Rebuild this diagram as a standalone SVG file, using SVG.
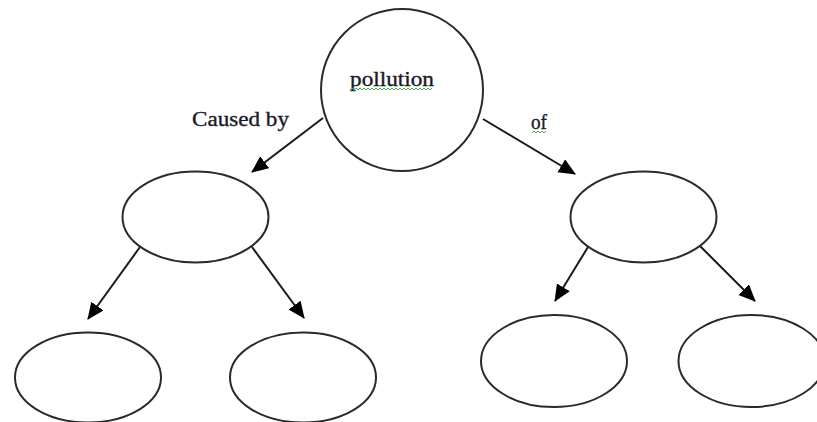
<svg xmlns="http://www.w3.org/2000/svg" width="817" height="422" viewBox="0 0 817 422">
  <defs>
    <marker id="arrow" markerUnits="userSpaceOnUse" markerWidth="18" markerHeight="16" refX="16" refY="7.5" orient="auto">
      <path d="M0,0 L17,7.5 L0,15 z" fill="#000"/>
    </marker>
    <style>
      .node { fill: #fff; stroke: #2a2a2a; stroke-width: 2; }
      .edge { stroke: #1a1a1a; stroke-width: 2; fill: none; marker-end: url(#arrow); }
      .label { font-family: "Liberation Serif", "Times New Roman", serif; font-size: 20px; fill: #1a1a2a; stroke: #1a1a2a; stroke-width: 0.35; }
      .squiggle { fill: none; stroke: #3cb43c; stroke-width: 1; }
    </style>
  </defs>
  <rect width="817" height="422" fill="#fff"/>

  <!-- connectors -->
  <g id="connectors">
    <line class="edge" x1="323" y1="118" x2="252" y2="172"/>
    <line class="edge" x1="483" y1="119" x2="575" y2="174"/>
    <line class="edge" x1="140" y1="247" x2="88" y2="319"/>
    <line class="edge" x1="252" y1="247" x2="304" y2="318"/>
    <line class="edge" x1="588" y1="247" x2="555" y2="301"/>
    <line class="edge" x1="700" y1="246" x2="755" y2="301"/>
  </g>

  <!-- edge labels -->
  <g id="edge-labels">
    <text class="label" x="192" y="126" textLength="97" lengthAdjust="spacingAndGlyphs">Caused by</text>
    <text class="label" x="531" y="129" textLength="16" lengthAdjust="spacingAndGlyphs">of</text>
    <path class="squiggle" d="M532,133 l2,-2 l2,2 l2,-2 l2,2 l2,-2 l2,2 l2,-2"/>
  </g>

  <g id="root">
    <circle class="node" cx="402" cy="90" r="81"/>
    <text class="label" x="350" y="86" textLength="84" lengthAdjust="spacingAndGlyphs">pollution</text>
    <path class="squiggle" d="M350,90 l2,-2 l2,2 l2,-2 l2,2 l2,-2 l2,2 l2,-2 l2,2 l2,-2 l2,2 l2,-2 l2,2 l2,-2 l2,2 l2,-2 l2,2 l2,-2 l2,2 l2,-2 l2,2 l2,-2 l2,2 l2,-2 l2,2 l2,-2 l2,2 l2,-2 l2,2 l2,-2 l2,2 l2,-2 l2,2 l2,-2 l2,2 l2,-2 l2,2 l2,-2 l2,2 l2,-2 l2,2 l2,-2"/>
  </g>

  <g id="cause">
    <ellipse class="node" cx="195.5" cy="217" rx="73" ry="45.5"/>
  </g>
  <g id="cause-a">
    <ellipse class="node" cx="88" cy="377.5" rx="73" ry="45"/>
  </g>
  <g id="cause-b">
    <ellipse class="node" cx="303" cy="377.5" rx="73" ry="45"/>
  </g>

  <g id="effect">
    <ellipse class="node" cx="643.5" cy="217" rx="73" ry="45.5"/>
  </g>
  <g id="effect-a">
    <ellipse class="node" cx="554" cy="361" rx="73" ry="46"/>
  </g>
  <g id="effect-b">
    <ellipse class="node" cx="751.5" cy="361" rx="73" ry="46"/>
  </g>
</svg>
